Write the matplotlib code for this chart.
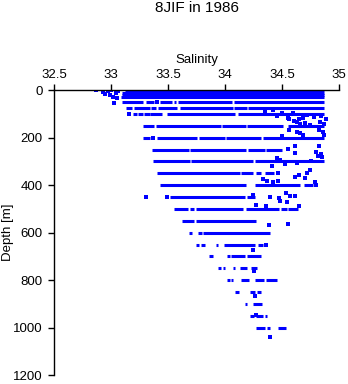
import matplotlib
matplotlib.use("Agg")
import matplotlib.pyplot as plt

plt.rcParams['font.family'] = ['Liberation Sans', 'DejaVu Sans']

title = "8JIF in 1986"
xticks = [32.5, 33, 33.5, 34, 34.5, 35]
xticklabels = ["32.5", "33", "33.5", "34", "34.5", "35"]
yticks = [0, 200, 400, 600, 800, 1000, 1200]

# Continuous runs of observations along each standard depth (depth, start salinity, end salinity)
seg_depth = (
    [0, 10, 20, 30]
    + [50] * 6
    + [75] * 7
    + [100] * 6
    + [150] * 5
    + [200] * 5
    + [250] * 4
    + [300] * 3
    + [350] * 4
    + [400] * 3
    + [450] * 2
    + [500] * 6
    + [550] * 2
    + [600] * 3
    + [650] * 5
    + [700] * 4
    + [750] * 5
    + [800] * 5
    + [850] * 3
    + [900] * 2
    + [950] * 3
    + [1000] * 3
)
seg_smin = [
    33.12, 33.10, 33.10, 33.09,
    33.10, 33.31, 33.43, 33.55, 33.59, 34.08,
    33.13, 33.20, 33.35, 33.41, 33.60, 34.08, 34.20,
    33.19, 33.24, 33.29, 33.34, 33.49, 34.11,
    33.28, 33.39, 33.97, 34.19, 34.55,
    33.28, 33.40, 33.77, 34.01, 34.33,
    33.36, 33.69, 34.20, 34.36,
    33.37, 33.70, 34.26,
    33.40, 34.14, 34.27, 34.35,
    33.43, 34.26, 34.69,
    33.52, 34.19,
    33.55, 33.69, 33.74, 34.18, 34.49, 34.55,
    33.62, 33.74,
    33.68, 33.76, 33.81,
    33.74, 33.79, 33.92, 33.99, 34.29,
    33.86, 34.02, 34.05, 34.19,
    33.94, 33.98, 34.07, 34.13, 34.23,
    34.02, 34.05, 34.14, 34.26, 34.36,
    34.09, 34.22, 34.28,
    34.17, 34.24,
    34.22, 34.27, 34.35,
    34.27, 34.37, 34.46,
]
seg_smax = [
    34.87, 34.87, 34.87, 34.87,
    33.28, 33.38, 33.53, 33.57, 34.06, 34.87,
    33.18, 33.34, 33.39, 33.58, 34.07, 34.19, 34.87,
    33.23, 33.28, 33.34, 33.45, 34.09, 34.87,
    33.38, 33.96, 34.18, 34.51, 34.87,
    33.34, 33.75, 34.00, 34.31, 34.87,
    33.68, 34.18, 34.35, 34.50,
    33.69, 34.24, 34.87,
    34.13, 34.24, 34.31, 34.43,
    34.18, 34.66, 34.77,
    34.17, 34.26,
    33.67, 33.73, 34.16, 34.47, 34.54, 34.64,
    33.73, 34.27,
    33.71, 33.80, 34.39,
    33.77, 33.82, 33.94, 34.26, 34.33,
    33.89, 34.04, 34.17, 34.31,
    33.96, 34.00, 34.09, 34.19, 34.28,
    34.04, 34.07, 34.21, 34.34, 34.45,
    34.12, 34.26, 34.31,
    34.19, 34.32,
    34.25, 34.33, 34.37,
    34.35, 34.39, 34.53,
]

# Isolated observations (salinity, depth)
pt_sal = [
    32.87, 32.93, 32.95, 32.97, 32.99, 33.00, 33.02, 33.04, 33.05, 33.03, 33.06,
    33.40, 33.16, 33.37, 33.31, 33.49,
    34.35, 34.42, 34.50, 34.45, 34.59, 34.65, 34.72, 34.78, 34.55, 34.60, 34.68, 34.84,
    34.56, 34.63, 34.66, 34.70, 34.74, 34.83, 34.87, 34.88,
    34.56, 34.63, 34.66, 34.68, 34.50, 34.82, 34.86, 34.87,
    34.82, 34.61, 34.55, 34.61, 34.80, 34.84, 34.85, 34.81,
    34.41, 34.45, 34.52, 34.63, 34.75, 34.74, 34.72, 34.48,
    34.33, 34.37, 34.42, 34.46, 34.61, 34.65, 34.70, 34.79, 34.80,
    34.53, 34.57, 34.61, 34.39, 34.47, 34.48, 34.54, 34.24, 34.27, 34.36, 34.65,
    34.46, 34.55, 34.38, 34.36, 34.24, 34.25, 34.26, 34.27, 34.39,
]
pt_depth = [
    0, 8, 15, 5, 20, 0, 28, 12, 33, 52, 5,
    50, 100, 200, 450, 450,
    90, 85, 95, 110, 97, 121, 105, 112, 118, 128, 115, 108,
    122, 132, 140, 136, 146, 133, 140, 122,
    167, 174, 182, 188, 192, 167, 176, 188,
    233, 234, 247, 263, 258, 268, 280, 275,
    319, 286, 310, 305, 298, 336, 350, 292,
    374, 382, 385, 382, 364, 357, 371, 385, 398,
    431, 445, 445, 448, 455, 465, 469, 441, 483, 486, 487,
    350, 562, 567, 650, 674, 760, 866, 945, 1040,
]

fig = plt.figure(figsize=(3.48, 3.84), dpi=100)
ax = fig.add_axes([54 / 348, 1 - 375 / 384, 285.3 / 348, (375 - 90.3) / 384])

ax.hlines(seg_depth, seg_smin, seg_smax, colors="#0000ff", linewidth=2.2)
ax.scatter(pt_sal, pt_depth, marker="s", s=7, color="#0000ff", linewidths=0)

ax.set_xlim(32.5, 35)
ax.set_ylim(1200, 0)
ax.xaxis.set_ticks_position("top")
ax.xaxis.set_label_position("top")
ax.set_xticks(xticks)
ax.set_xticklabels(xticklabels)
ax.set_yticks(yticks)
ax.spines["right"].set_visible(False)
ax.spines["bottom"].set_visible(False)
for s in ("top", "left"):
    ax.spines[s].set_linewidth(1.0)
ax.tick_params(axis="both", direction="out", length=4, width=1.0,
               labelsize=9.5, colors="black")
ax.tick_params(axis="x", pad=3)
ax.tick_params(axis="y", pad=4)
ax.set_xlabel("Salinity", fontsize=9.5, labelpad=4)
ax.set_ylabel("Depth [m]", fontsize=9.5)
ax.yaxis.set_label_coords(-0.14, 0.5)

fig.text((54 + 339.3) / 2 / 348, 1 - 8 / 384, title, ha="center", va="center",
         fontsize=11)

fig.savefig("out.png", dpi=100)
